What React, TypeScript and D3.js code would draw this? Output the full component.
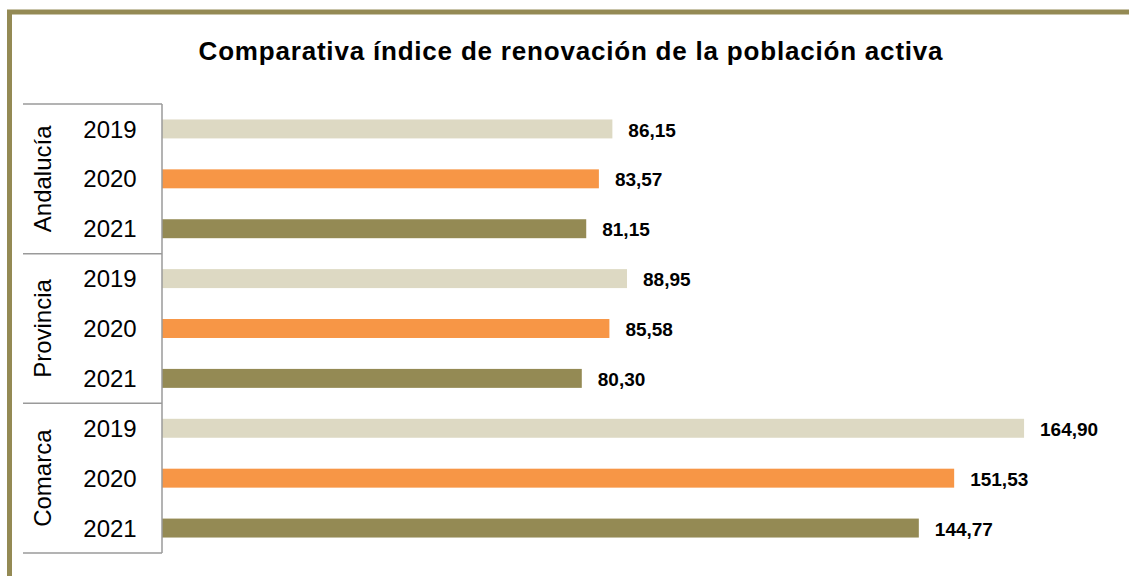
import React from 'react';
import * as d3 from 'd3';

const groups = ['Andalucía', 'Provincia', 'Comarca'];
const years = ['2019', '2020', '2021'];
const andalucia = [86.15, 83.57, 81.15];
const provincia = [88.95, 85.58, 80.3];
const comarca = [164.9, 151.53, 144.77];
const yearColors = ['#ddd9c3', '#f79646', '#948a54'];

const App = () => {
  const width = 1129;
  const height = 576;
  const plot = { left: 162, top: 104, bottom: 553 };

  // flatten group/year rows in display order
  const series = [andalucia, provincia, comarca];
  const rows = groups.flatMap((g, gi) =>
    years.map((y, yi) => ({ group: g, year: y, yi, value: series[gi][yi], key: `${g}-${y}` }))
  );

  const x = d3.scaleLinear().domain([0, 180]).range([plot.left, 1103]);
  const y = d3.scaleBand()
    .domain(rows.map(r => r.key))
    .range([plot.top, plot.bottom])
    .paddingInner(0.62)
    .paddingOuter(0.31);

  const groupStep = (plot.bottom - plot.top) / groups.length;
  const fmt = (v: number) => v.toFixed(2).replace('.', ',');

  return (
    <svg width={width} height={height} style={{ position: 'absolute', left: 0, top: 0, background: '#fff' }}>
      {/* outer frame */}
      <rect x={9.5} y={12} width={1300} height={700} fill="none" stroke="#948a54" strokeWidth={5} />

      <text x={571} y={60} textAnchor="middle" fontFamily="Liberation Sans, Arial, sans-serif"
        fontWeight="bold" fontSize={26} letterSpacing={0.8} fill="#000">
        Comparativa índice de renovación de la población activa
      </text>

      {/* bars */}
      {rows.map(r => (
        <g key={r.key}>
          <rect x={x(0)} y={y(r.key)} width={x(r.value) - x(0)} height={y.bandwidth()} fill={yearColors[r.yi]} />
          <text x={x(r.value) + 16} y={y(r.key)! + y.bandwidth() / 2 + 1} dy="0.35em"
            fontFamily="Liberation Sans, Arial, sans-serif" fontWeight="bold" fontSize={19} fill="#000">
            {fmt(r.value)}
          </text>
          <text x={110} y={y(r.key)! + y.bandwidth() / 2} dy="0.36em" textAnchor="middle"
            fontFamily="Liberation Sans, Arial, sans-serif" fontSize={24} fill="#000">
            {r.year}
          </text>
        </g>
      ))}

      {/* category axis */}
      <line x1={plot.left} x2={plot.left} y1={plot.top} y2={plot.bottom} stroke="#9a9a9a" strokeWidth={1.5} />
      {d3.range(groups.length + 1).map(i => (
        <line key={i} x1={23} x2={plot.left} y1={plot.top + i * groupStep} y2={plot.top + i * groupStep}
          stroke="#9a9a9a" strokeWidth={1.5} />
      ))}
      {groups.map((g, i) => {
        const cy = plot.top + (i + 0.5) * groupStep;
        return (
          <text key={g} transform={`translate(43,${cy}) rotate(-90)`} textAnchor="middle" dy="0.35em"
            fontFamily="Liberation Sans, Arial, sans-serif" fontSize={24} fill="#000">
            {g}
          </text>
        );
      })}
    </svg>
  );
};

export default App;
